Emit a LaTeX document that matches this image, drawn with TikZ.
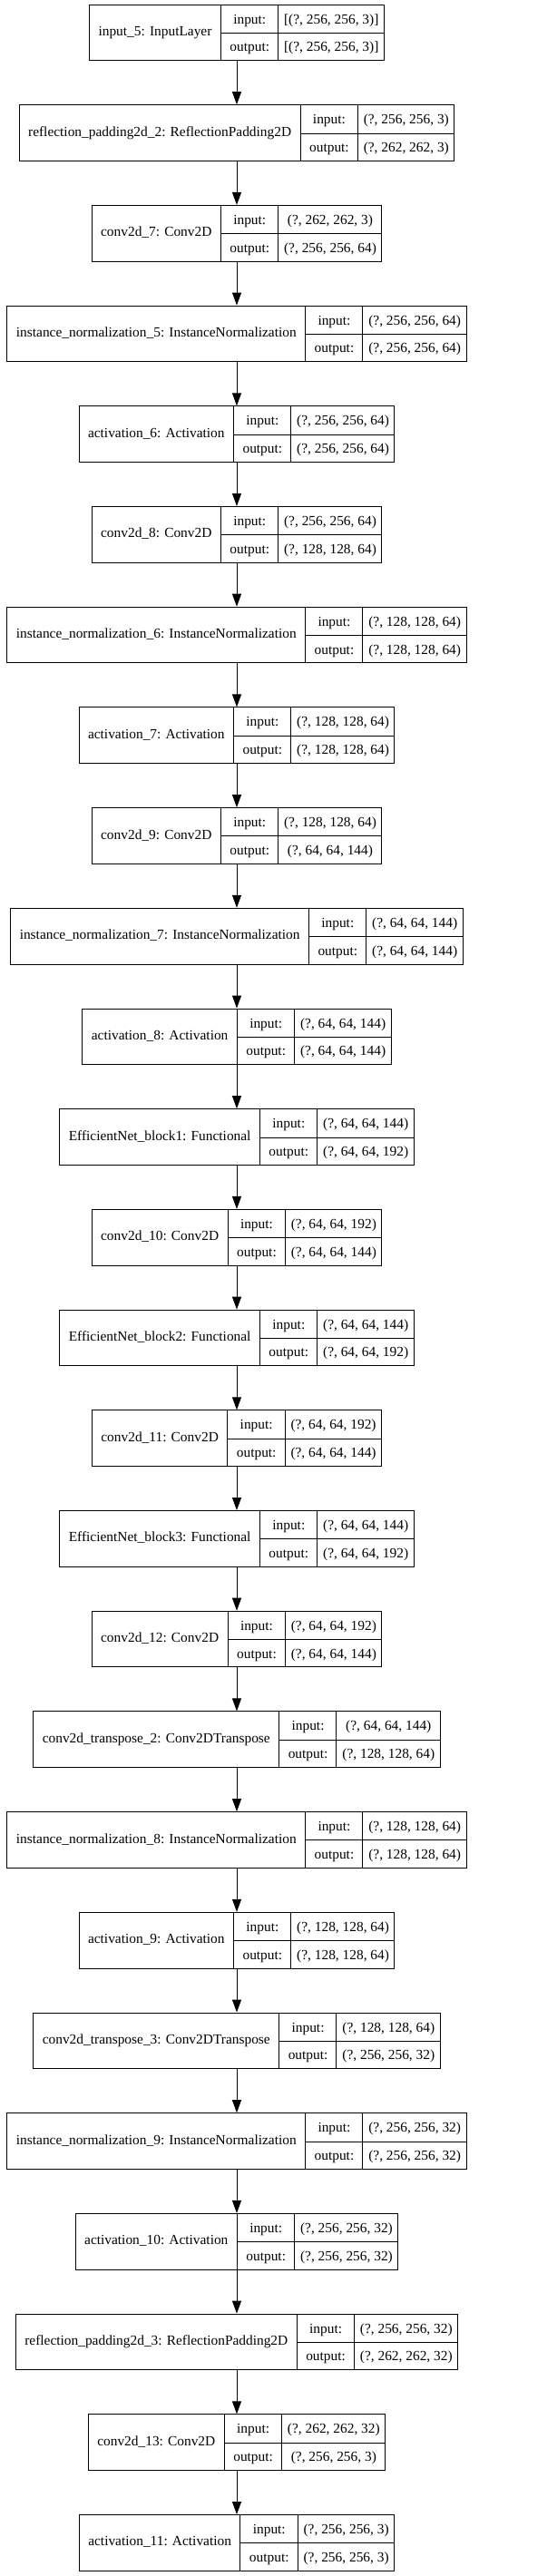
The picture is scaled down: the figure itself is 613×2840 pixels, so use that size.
\documentclass[tikz,border=0pt]{standalone}
\usepackage{fontspec}
\setmainfont{Liberation Serif}
\usetikzlibrary{arrows.meta,positioning}

\setlength{\arrayrulewidth}{1pt}
\newcommand{\cellstrut}{\rule[-9.85pt]{0pt}{30.85pt}}
% record: layer name | input:/output: | shapes
\newcommand{\layerrec}[3]{%
  \begin{tabular}{@{\hspace{10pt}}c@{\hspace{10pt}}|@{}c@{}}
    #1 &
    \begin{tabular}{@{\hspace{9.5pt}}c@{\hspace{9.5pt}}|@{\hspace{6pt}}c@{\hspace{6pt}}}
      \cellstrut input: & #2\\ \cline{1-2}
      \cellstrut output: & #3
    \end{tabular}
  \end{tabular}}

\begin{document}
\begin{tikzpicture}[x=1pt,y=1pt,
      font=\fontsize{15.4}{18}\selectfont,node distance=48pt,
      layer/.style={draw,line width=1pt,inner sep=0pt},
      arr/.style={-{Triangle[length=14pt,width=10pt]},line width=1pt}]
    \fill[white] (0,0) rectangle (613,-2840);
    \node[layer] (inp5) at (261,-35.85) {\layerrec{input\_5: InputLayer}{[(?, 256, 256, 3)]}{[(?, 256, 256, 3)]}};
    \node[layer,below=of inp5] (refpad2) {\layerrec{reflection\_padding2d\_2: ReflectionPadding2D}{(?, 256, 256, 3)}{(?, 262, 262, 3)}};
    \node[layer,below=of refpad2] (conv7) {\layerrec{conv2d\_7: Conv2D}{(?, 262, 262, 3)}{(?, 256, 256, 64)}};
    \node[layer,below=of conv7] (inorm5) {\layerrec{instance\_normalization\_5: InstanceNormalization}{(?, 256, 256, 64)}{(?, 256, 256, 64)}};
    \node[layer,below=of inorm5] (act6) {\layerrec{activation\_6: Activation}{(?, 256, 256, 64)}{(?, 256, 256, 64)}};
    \node[layer,below=of act6] (conv8) {\layerrec{conv2d\_8: Conv2D}{(?, 256, 256, 64)}{(?, 128, 128, 64)}};
    \node[layer,below=of conv8] (inorm6) {\layerrec{instance\_normalization\_6: InstanceNormalization}{(?, 128, 128, 64)}{(?, 128, 128, 64)}};
    \node[layer,below=of inorm6] (act7) {\layerrec{activation\_7: Activation}{(?, 128, 128, 64)}{(?, 128, 128, 64)}};
    \node[layer,below=of act7] (conv9) {\layerrec{conv2d\_9: Conv2D}{(?, 128, 128, 64)}{(?, 64, 64, 144)}};
    \node[layer,below=of conv9] (inorm7) {\layerrec{instance\_normalization\_7: InstanceNormalization}{(?, 64, 64, 144)}{(?, 64, 64, 144)}};
    \node[layer,below=of inorm7] (act8) {\layerrec{activation\_8: Activation}{(?, 64, 64, 144)}{(?, 64, 64, 144)}};
    \node[layer,below=of act8] (effb1) {\layerrec{EfficientNet\_block1: Functional}{(?, 64, 64, 144)}{(?, 64, 64, 192)}};
    \node[layer,below=of effb1] (conv10) {\layerrec{conv2d\_10: Conv2D}{(?, 64, 64, 192)}{(?, 64, 64, 144)}};
    \node[layer,below=of conv10] (effb2) {\layerrec{EfficientNet\_block2: Functional}{(?, 64, 64, 144)}{(?, 64, 64, 192)}};
    \node[layer,below=of effb2] (conv11) {\layerrec{conv2d\_11: Conv2D}{(?, 64, 64, 192)}{(?, 64, 64, 144)}};
    \node[layer,below=of conv11] (effb3) {\layerrec{EfficientNet\_block3: Functional}{(?, 64, 64, 144)}{(?, 64, 64, 192)}};
    \node[layer,below=of effb3] (conv12) {\layerrec{conv2d\_12: Conv2D}{(?, 64, 64, 192)}{(?, 64, 64, 144)}};
    \node[layer,below=of conv12] (convt2) {\layerrec{conv2d\_transpose\_2: Conv2DTranspose}{(?, 64, 64, 144)}{(?, 128, 128, 64)}};
    \node[layer,below=of convt2] (inorm8) {\layerrec{instance\_normalization\_8: InstanceNormalization}{(?, 128, 128, 64)}{(?, 128, 128, 64)}};
    \node[layer,below=of inorm8] (act9) {\layerrec{activation\_9: Activation}{(?, 128, 128, 64)}{(?, 128, 128, 64)}};
    \node[layer,below=of act9] (convt3) {\layerrec{conv2d\_transpose\_3: Conv2DTranspose}{(?, 128, 128, 64)}{(?, 256, 256, 32)}};
    \node[layer,below=of convt3] (inorm9) {\layerrec{instance\_normalization\_9: InstanceNormalization}{(?, 256, 256, 32)}{(?, 256, 256, 32)}};
    \node[layer,below=of inorm9] (act10) {\layerrec{activation\_10: Activation}{(?, 256, 256, 32)}{(?, 256, 256, 32)}};
    \node[layer,below=of act10] (refpad3) {\layerrec{reflection\_padding2d\_3: ReflectionPadding2D}{(?, 256, 256, 32)}{(?, 262, 262, 32)}};
    \node[layer,below=of refpad3] (conv13) {\layerrec{conv2d\_13: Conv2D}{(?, 262, 262, 32)}{(?, 256, 256, 3)}};
    \node[layer,below=of conv13] (act11) {\layerrec{activation\_11: Activation}{(?, 256, 256, 3)}{(?, 256, 256, 3)}};
    \foreach \a/\b in {inp5/refpad2,refpad2/conv7,conv7/inorm5,inorm5/act6,act6/conv8,
        conv8/inorm6,inorm6/act7,act7/conv9,conv9/inorm7,inorm7/act8,act8/effb1,
        effb1/conv10,conv10/effb2,effb2/conv11,conv11/effb3,effb3/conv12,conv12/convt2,
        convt2/inorm8,inorm8/act9,act9/convt3,convt3/inorm9,inorm9/act10,act10/refpad3,
        refpad3/conv13,conv13/act11}
      \draw[arr] (\a) -- (\b);
  \end{tikzpicture}
\end{document}
